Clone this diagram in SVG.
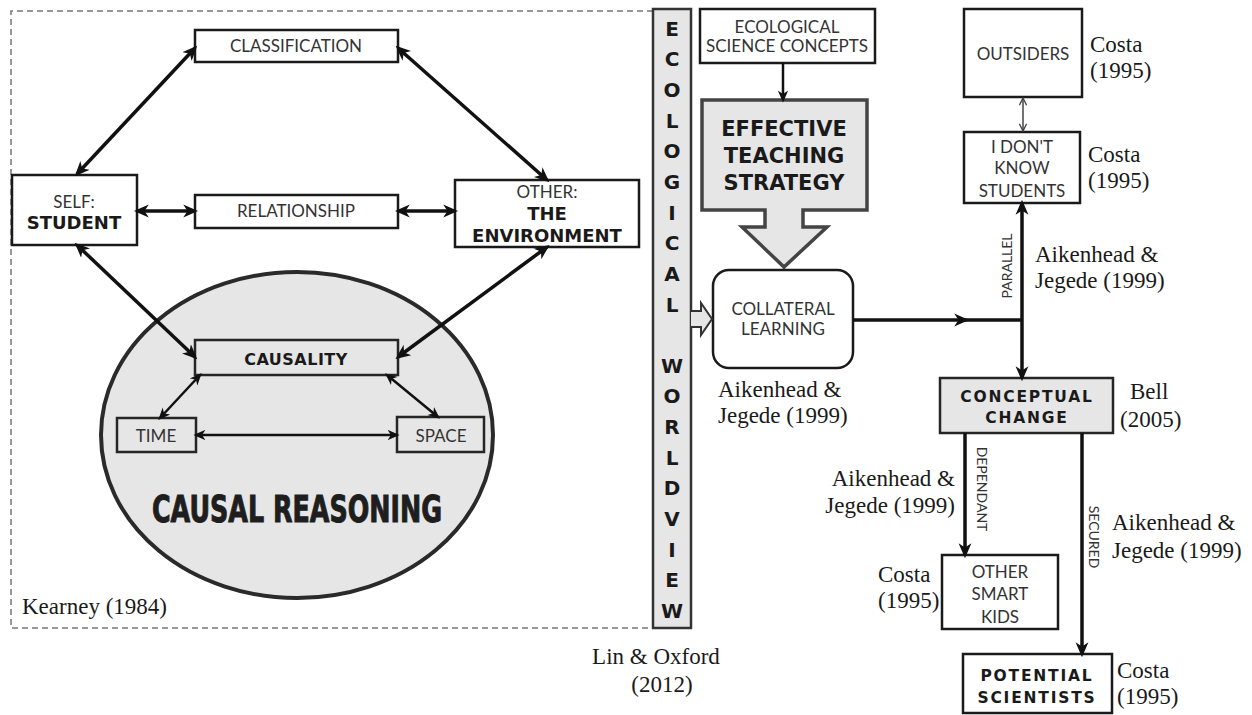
<svg xmlns="http://www.w3.org/2000/svg" width="1252" height="715" viewBox="0 0 1252 715">
<style>
.box{fill:#fff;stroke:#1a1a1a;stroke-width:2.5}
.gbox{fill:#e6e6e6;stroke:#262626;stroke-width:2.5}
.t{font-family:Lato,"Noto Sans",sans-serif;font-size:17px;fill:#333;text-anchor:middle}
.b{font-family:"DejaVu Sans",sans-serif;font-weight:bold;fill:#1a1a1a;text-anchor:middle}
.c{font-family:"Liberation Serif",serif;font-size:23px;fill:#1a1a1a}
.ln{stroke:#111;stroke-width:3.5;fill:none}
.ln2{stroke:#111;stroke-width:2.5;fill:none}
.col{font-family:"DejaVu Sans",sans-serif;font-weight:bold;font-size:20px;fill:#1a1a1a;text-anchor:middle}
.rot{font-family:Lato,"Noto Sans",sans-serif;font-size:14px;fill:#333;text-anchor:middle}
</style>
<defs>
<marker id="ah" viewBox="0 0 14 14" refX="11" refY="7" markerWidth="15" markerHeight="15" markerUnits="userSpaceOnUse" orient="auto-start-reverse"><path d="M0,1 L14,7 L0,13 L4,7 Z" fill="#111"/></marker>
<marker id="ahs" viewBox="0 0 14 14" refX="11" refY="7" markerWidth="12" markerHeight="12" markerUnits="userSpaceOnUse" orient="auto-start-reverse"><path d="M0,1 L14,7 L0,13 L4,7 Z" fill="#111"/></marker>
<marker id="ao" viewBox="0 0 10 10" refX="9" refY="5" markerWidth="9" markerHeight="9" markerUnits="userSpaceOnUse" orient="auto-start-reverse"><path d="M1,1 L9,5 L1,9" fill="none" stroke="#444" stroke-width="1.5"/></marker>
</defs>
<rect width="1252" height="715" fill="#fff"/>

<g id="kearney-frame">
<path d="M653,11 H11 V628 H653" fill="none" stroke="#777" stroke-width="1.5" stroke-dasharray="6 4"/>
<text class="c" x="22" y="614">Kearney (1984)</text>
</g>

<g id="causal-reasoning">
<ellipse cx="297" cy="435" rx="196" ry="163" fill="#e6e6e6" stroke="#2a2a2a" stroke-width="4"/>
<text x="297" y="522" font-family="'Liberation Sans Narrow','DejaVu Sans Condensed','DejaVu Sans',sans-serif" font-weight="bold" font-size="38" fill="#1e1e1e" stroke="#1e1e1e" stroke-width="1" text-anchor="middle" textLength="290" lengthAdjust="spacingAndGlyphs">CAUSAL REASONING</text>
</g>

<g id="classification"><rect class="box" x="195" y="30" width="203" height="32"/><text class="t" x="296" y="52">CLASSIFICATION</text></g>
<g id="self"><rect class="box" x="12" y="175" width="125" height="70"/><text class="t" x="74" y="208">SELF:</text><text class="b" x="74" y="229" font-size="18">STUDENT</text></g>
<g id="relationship"><rect class="box" x="195" y="195" width="203" height="33"/><text class="t" x="296" y="217">RELATIONSHIP</text></g>
<g id="other"><rect class="box" x="455" y="180" width="184" height="67"/><text class="t" x="547" y="198">OTHER:</text><text class="b" x="547" y="220" font-size="18">THE</text><text class="b" x="547" y="242" font-size="18">ENVIRONMENT</text></g>
<g id="causality"><rect class="gbox" x="195" y="340" width="203" height="35"/><text class="b" x="296" y="365" font-size="16" letter-spacing="0.5">CAUSALITY</text></g>
<g id="time"><rect class="gbox" x="117" y="418" width="79" height="34"/><text class="t" x="156" y="442" font-size="16">TIME</text></g>
<g id="space"><rect class="gbox" x="397" y="417" width="87" height="35"/><text class="t" x="441" y="442">SPACE</text></g>

<g id="worldview">
<rect x="653" y="9" width="38" height="619" fill="#e6e6e6" stroke="#333" stroke-width="2.5"/>
<text class="col" x="672" y="35.5">E</text>
<text class="col" x="672" y="66">C</text>
<text class="col" x="672" y="97">O</text>
<text class="col" x="672" y="127.5">L</text>
<text class="col" x="672" y="158">O</text>
<text class="col" x="672" y="189">G</text>
<text class="col" x="672" y="219.5">I</text>
<text class="col" x="672" y="250">C</text>
<text class="col" x="672" y="281">A</text>
<text class="col" x="672" y="311.5">L</text>
<text class="col" x="672" y="372.5">W</text>
<text class="col" x="672" y="403">O</text>
<text class="col" x="672" y="434">R</text>
<text class="col" x="672" y="464.5">L</text>
<text class="col" x="672" y="495">D</text>
<text class="col" x="672" y="526">V</text>
<text class="col" x="672" y="556.5">I</text>
<text class="col" x="672" y="587">E</text>
<text class="col" x="672" y="618">W</text>
<text class="c" x="656" y="664" text-anchor="middle" font-size="25">Lin &amp; Oxford</text>
<text class="c" x="662" y="692" text-anchor="middle" font-size="25">(2012)</text>
</g>

<g id="eco-concepts"><rect class="box" x="700" y="9" width="175" height="54"/><text class="t" x="787" y="33" font-size="14.5">ECOLOGICAL</text><text class="t" x="787" y="52" font-size="14.5">SCIENCE CONCEPTS</text></g>

<g id="effective-strategy">
<path d="M702,100 H867 V210 H803 V227 H827 L784,267 L742,227 H765 V210 H702 Z" fill="#e6e6e6" stroke="#444" stroke-width="3.5" stroke-linejoin="miter"/>
<text class="b" x="784" y="136" font-size="21">EFFECTIVE</text>
<text class="b" x="784" y="163" font-size="21">TEACHING</text>
<text class="b" x="784" y="190" font-size="21">STRATEGY</text>
</g>

<g id="collateral"><rect class="box" x="713" y="270" width="140" height="98" rx="16"/><text class="t" x="783" y="315" font-size="16.5">COLLATERAL</text><text class="t" x="783" y="335" font-size="16.5">LEARNING</text>
<text class="c" x="718" y="397">Aikenhead &amp;</text><text class="c" x="718" y="423">Jegede (1999)</text></g>

<g id="outsiders"><rect class="box" x="964" y="9" width="118" height="88"/><text class="t" x="1023" y="60">OUTSIDERS</text>
<text class="c" x="1090" y="52">Costa</text><text class="c" x="1090" y="78">(1995)</text></g>

<g id="dont-know"><rect class="box" x="964" y="132" width="116" height="71"/><text class="t" x="1022" y="153">I DON'T</text><text class="t" x="1022" y="174">KNOW</text><text class="t" x="1022" y="197">STUDENTS</text>
<text class="c" x="1088" y="162">Costa</text><text class="c" x="1088" y="188">(1995)</text></g>

<g id="conceptual-change"><rect class="gbox" x="940" y="378" width="173" height="55"/><text class="b" x="1027" y="402" font-size="15.5" letter-spacing="1.8">CONCEPTUAL</text><text class="b" x="1027" y="423" font-size="15.5" letter-spacing="1.8">CHANGE</text>
<text class="c" x="1130" y="399">Bell</text><text class="c" x="1120" y="427">(2005)</text></g>

<g id="other-smart-kids"><rect class="box" x="942" y="555" width="116" height="74"/><text class="t" x="1000" y="578">OTHER</text><text class="t" x="1000" y="600">SMART</text><text class="t" x="1000" y="623">KIDS</text>
<text class="c" x="878" y="582">Costa</text><text class="c" x="878" y="608">(1995)</text></g>

<g id="potential-scientists"><rect class="box" x="963" y="654" width="149" height="59"/><text class="b" x="1037" y="681" font-size="15.5" letter-spacing="1.8">POTENTIAL</text><text class="b" x="1037" y="703" font-size="15.5" letter-spacing="1.8">SCIENTISTS</text>
<text class="c" x="1117" y="678">Costa</text><text class="c" x="1117" y="704">(1995)</text></g>

<g id="connectors">
<path class="ln" d="M195,48 L77,174" marker-start="url(#ah)" marker-end="url(#ah)"/>
<path class="ln" d="M398,48 L547,180" marker-start="url(#ah)" marker-end="url(#ah)"/>
<path class="ln" d="M137,211 L195,211" marker-start="url(#ah)" marker-end="url(#ah)"/>
<path class="ln" d="M398,211 L455,211" marker-start="url(#ah)" marker-end="url(#ah)"/>
<path class="ln" d="M77,245 L195,357" marker-start="url(#ah)" marker-end="url(#ah)"/>
<path class="ln" d="M547,247 L398,357" marker-start="url(#ah)" marker-end="url(#ah)"/>
<path class="ln2" d="M200,375 L160,418" marker-start="url(#ahs)" marker-end="url(#ahs)"/>
<path class="ln2" d="M387,375 L438,417" marker-start="url(#ahs)" marker-end="url(#ahs)"/>
<path class="ln2" d="M196,435 L397,435" marker-start="url(#ahs)" marker-end="url(#ahs)"/>
<path d="M691,311 H701 V303 L712,319 L701,335 V327 H691" fill="#e6e6e6" stroke="#333" stroke-width="2"/>
<path class="ln2" d="M783,63 L783,100" marker-end="url(#ahs)"/>
<path class="ln" d="M853,320 L966,320" marker-end="url(#ah)"/>
<path class="ln" d="M960,320 L1022,320"/>
<path class="ln" d="M1022,203 L1022,378" marker-start="url(#ah)" marker-end="url(#ah)"/>
<path d="M1023,98 L1023,131" stroke="#444" stroke-width="1.5" fill="none" marker-start="url(#ao)" marker-end="url(#ao)"/>
<path class="ln" d="M965,433 L965,555" marker-end="url(#ah)"/>
<path class="ln" d="M1082,433 L1082,654" marker-end="url(#ah)"/>
<text class="rot" transform="translate(1012,266) rotate(-90)">PARALLEL</text>
<text class="rot" transform="translate(977,489) rotate(90)">DEPENDANT</text>
<text class="rot" transform="translate(1089,537) rotate(90)">SECURED</text>
<text class="c" x="955" y="486" text-anchor="end">Aikenhead &amp;</text>
<text class="c" x="955" y="513" text-anchor="end">Jegede (1999)</text>
<text class="c" x="1112" y="530">Aikenhead &amp;</text>
<text class="c" x="1112" y="558">Jegede (1999)</text>
<text class="c" x="1035" y="262">Aikenhead &amp;</text>
<text class="c" x="1035" y="288">Jegede (1999)</text>
</g>
</svg>
